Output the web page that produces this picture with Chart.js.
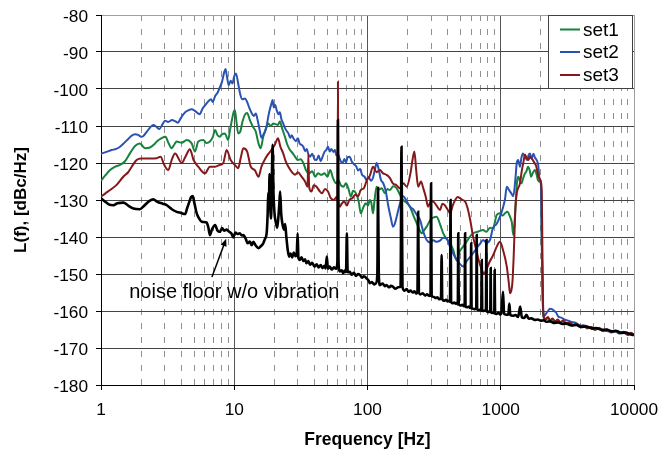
<!DOCTYPE html>
<html>
<head>
<meta charset="utf-8">
<script src="https://cdn.jsdelivr.net/npm/chart.js@4/dist/chart.umd.min.js"></script>
<style>
  html, body { margin: 0; padding: 0; background: #fff; }
  canvas { display: block; }
</style>
</head>
<body>
<canvas id="grafica" width="660" height="452"></canvas>
<script>
// axis ticks
const decadeTicks = [1, 10, 100, 1000, 10000];
const minorTicks = [2, 3, 4, 5, 6, 7, 8, 9, 20, 30, 40, 50, 60, 70, 80, 90,
  200, 300, 400, 500, 600, 700, 800, 900, 2000, 3000, 4000, 5000, 6000, 7000, 8000, 9000];

// [frequency Hz, L(f) dBc/Hz]
const set1 = [[1,-124.8],[1.08,-123.3],[1.17,-121.9],[1.28,-121],[1.39,-120.5],[1.51,-119.6],[1.65,-117.4],[1.8,-115.4],
  [1.96,-114.7],[2.05,-115.4],[2.14,-116],[2.33,-115.8],[2.5,-115],[2.62,-114.2],[2.85,-113.3],[3.05,-112.9],[3.2,-114.5],
  [3.39,-116],[3.55,-115],[3.7,-114.2],[4.03,-114.5],[4.4,-113.8],[4.79,-114.7],[5.07,-116.9],[5.37,-114.2],[5.85,-113.8],
  [6.2,-114.6],[6.56,-114.2],[6.9,-113],[7.18,-111.1],[7.5,-112.5],[7.8,-112.9],[8.1,-112.2],[8.5,-112],[9.0,-113.8],
  [9.3,-111],[9.6,-108.4],[9.85,-106.5],[10.1,-105.7],[10.4,-109],[10.7,-112],[11.1,-111.5],[11.5,-109],[12,-107],
  [12.5,-106.5],[13.1,-108.4],[13.8,-110.2],[14.5,-111.5],[15.2,-114.7],[15.8,-116],[16.5,-112.9],[17.2,-111],[18,-109.3],
  [18.8,-110],[19.6,-109.3],[20.4,-109.5],[21.3,-109.7],[22,-108.8],[22.8,-110.5],[24,-112.9],[25,-115],[26.2,-116.5],
  [27.5,-117.4],[28.6,-118.3],[30,-119.2],[31.5,-119],[33,-120],[34.5,-121.9],[36.5,-122.8],[38.5,-122.2],[40.5,-123.7],
  [42.5,-122.8],[45,-123.2],[47.5,-122.8],[50,-123.7],[52.5,-121.9],[55,-124],[58,-125.5],[60.5,-124.6],[63,-126],
  [66,-126.4],[69,-125.5],[72,-127],[75,-129.1],[78,-127.5],[82,-128.2],[86,-130.5],[89,-133.6],[93,-132],[97,-130.9],
  [101,-131.5],[104,-130],[107,-130.9],[110,-133.6],[113,-130],[117,-126.4],[121,-127.3],[128,-126.8],[135,-128.2],
  [141,-127],[147,-127.3],[156,-126.3],[165,-126.8],[175,-128.5],[185,-130],[197,-130.8],[208,-131.8],[220,-134],
  [234,-136.3],[245,-138],[256,-139],[267,-138.1],[278,-137.2],[295,-135.5],[310,-134.8],[330,-134.5],[350,-136.5],
  [370,-139],[393,-140.5],[417,-141.7],[440,-143.5],[466,-146.2],[490,-144],[522,-142.6],[560,-141],[590,-139.8],
  [620,-139],[680,-138.5],[737,-138.1],[780,-138.6],[830,-137.5],[875,-137.7],[933,-134],[987,-133.6],[1030,-134.2],
  [1076,-133.6],[1120,-133.2],[1173,-134.5],[1210,-136],[1242,-139.5],[1270,-136],[1290,-131.8],[1330,-124.5],
  [1360,-123.7],[1394,-125],[1430,-125.5],[1475,-124],[1520,-122.8],[1560,-122.2],[1600,-121],[1650,-122],[1690,-123.7],
  [1750,-122.5],[1807,-121.9],[1860,-123.2],[1900,-124.6],[1960,-125],[2000,-125.5],[2030,-140],[2060,-155],[2090,-161.5],
  [2150,-162.3],[2230,-161.8],[2320,-162.6],[2420,-162.2],[2540,-162.9],[2660,-162.5],[2790,-163.2],[2930,-162.8],
  [3080,-163.5],[3260,-163.2],[3450,-163.9],[3650,-163.5],[3900,-164.3],[4150,-164],[4450,-164.7],[4750,-164.3],
  [5050,-165.1],[5450,-164.7],[5850,-165.4],[6250,-165.1],[6750,-165.8],[7250,-165.4],[7750,-166.1],[8350,-165.7],
  [8950,-166.5],[9450,-166],[10000,-166.4]];

const set2 = [[1,-117.5],[1.1,-117],[1.2,-116.5],[1.3,-116.2],[1.39,-115.6],[1.5,-114.5],[1.6,-113.5],[1.7,-112.6],
  [1.8,-112.2],[1.9,-112.4],[2.0,-112.9],[2.08,-112.7],[2.2,-111.6],[2.35,-110.3],[2.47,-109.7],[2.6,-110.2],[2.74,-110.8],
  [2.9,-109.5],[3.02,-108.6],[3.2,-108.9],[3.41,-108.4],[3.6,-108.7],[3.78,-109.1],[3.95,-108],[4.12,-107],[4.3,-106.2],
  [4.5,-105.8],[4.8,-105.5],[5.1,-106],[5.5,-106.8],[5.8,-105.2],[6.1,-104.2],[6.4,-103.3],[6.7,-102.8],[6.9,-103.5],
  [7.2,-101.8],[7.5,-101],[7.8,-99.5],[8.1,-98],[8.4,-95.5],[8.6,-94.6],[8.8,-96.5],[9.1,-99],[9.4,-97.8],[9.7,-98.5],
  [10.0,-96.5],[10.3,-95.8],[10.7,-98.5],[11.1,-101.5],[11.5,-102.8],[12,-102.6],[12.5,-103.5],[13,-105.2],[13.5,-106.5],
  [14,-107.3],[14.5,-106.6],[15,-108.5],[15.5,-111],[16,-113.2],[16.5,-112.4],[17,-111.5],[17.5,-110],[18,-107.5],
  [18.5,-105.5],[19,-104],[19.4,-103],[19.8,-105],[20.3,-104.3],[20.8,-105.7],[21.5,-106.8],[22,-106.3],[22.6,-108.2],
  [23.3,-109.3],[24,-110.5],[24.7,-111.3],[25.5,-112],[26.3,-113.2],[27,-112.5],[28,-113.5],[29,-114.1],[30,-113.3],
  [31,-114.8],[32,-115.1],[33,-115.6],[34,-116.8],[35,-116.2],[36,-117.7],[37,-118.3],[38.5,-117.5],[40,-119],
  [41.5,-119.2],[43,-118],[44.5,-119.5],[46,-118.3],[47.5,-117],[49,-116.5],[50.6,-115.6],[52,-116.9],[53.5,-116.2],
  [55.4,-117],[57,-116.5],[58.5,-118],[60,-117.5],[61.5,-118.6],[63,-119.5],[65,-120],[67,-118.9],[69,-119.8],
  [71,-118.4],[73.5,-118.3],[76,-119.5],[79,-120.3],[82,-120.8],[85,-122],[88,-121.6],[91,-123.2],[95,-123.7],
  [98,-124.5],[102,-123.8],[106,-124.8],[110,-124],[114,-121.5],[117,-120],[121,-121.5],[126,-124.5],[131,-125.4],
  [137,-127.5],[143,-131.5],[150,-135],[155,-137.2],[160,-136.5],[167,-134],[175,-131],[185,-129],[195,-130],
  [208,-131.8],[220,-132.5],[232,-133.8],[248,-135.4],[262,-138.5],[278,-140.8],[295,-141.5],[312,-140.9],[330,-141.3],
  [350,-141],[370,-140.2],[392,-140.4],[415,-142.5],[440,-144.5],[466,-146.2],[492,-147.2],[522,-148],[555,-146.5],
  [590,-145.4],[620,-144.4],[660,-143],[700,-141.8],[737,-140.8],[780,-141.5],[830,-140.8],[875,-137.5],[930,-136.5],
  [987,-134.5],[1040,-132],[1076,-129.8],[1110,-126.4],[1150,-127.2],[1200,-128.2],[1242,-129],[1290,-124],[1318,-120],
  [1350,-119.2],[1394,-121],[1430,-118.5],[1470,-117.4],[1520,-118.3],[1580,-119.2],[1620,-117.8],[1657,-117.4],
  [1700,-118.8],[1760,-117.5],[1807,-118.6],[1860,-119.2],[1910,-120.5],[1960,-124.6],[2000,-125.5],[2030,-140],
  [2060,-155],[2090,-160.8],[2120,-161.3],[2180,-160.8],[2260,-160],[2340,-159.4],[2420,-159.5],[2520,-160],[2600,-160.4],
  [2700,-161.5],[2850,-161.8],[3000,-162.3],[3200,-162.6],[3400,-163],[3600,-163.1],[3800,-163.6],[4000,-163.9],
  [4300,-164],[4600,-164.5],[5000,-164.8],[5400,-164.7],[5800,-165.3],[6200,-165.4],[6700,-165.6],[7200,-165.5],
  [7700,-166],[8300,-165.8],[8900,-166.3],[9500,-166.1],[10000,-166.3]];

const set3 = [[1,-129.1],[1.08,-128.2],[1.17,-127.3],[1.31,-125.9],[1.47,-123.7],[1.6,-122.5],[1.7,-121],[1.85,-119.2],
  [2.0,-118.8],[2.33,-118.8],[2.62,-118.7],[2.8,-118.3],[2.98,-120.5],[3.2,-121.9],[3.39,-119.2],[3.6,-117.4],[4.03,-120],
  [4.3,-118.3],[4.65,-116.3],[4.95,-119.2],[5.37,-121],[6.03,-122.8],[6.56,-121],[7.18,-121],[7.8,-120.5],[8.27,-120],
  [8.77,-116.5],[9.4,-119.2],[10.1,-120.5],[10.7,-121.4],[11.2,-118.5],[11.7,-116],[12.5,-116.9],[13.3,-121],[14.3,-122],
  [15.2,-123.7],[16,-121],[17,-119],[17.8,-117.8],[19,-116.5],[20.2,-115],[21.3,-113.3],[22.2,-115.6],[23.3,-117.4],
  [24.3,-119.5],[25.5,-121],[27,-122.4],[28.6,-123.2],[30,-122.5],[32,-123.7],[34,-125],[35.5,-126.4],[36,-117.8],
  [36.5,-126.5],[38,-127.7],[39.5,-126],[41.5,-126.4],[43.5,-127.5],[45.5,-128.2],[48,-127],[50.5,-127.7],[53,-129.5],
  [56,-130],[58.5,-129.2],[59.6,-130],[60,-98],[60.4,-130],[62,-131.8],[64,-131],[67,-130.4],[70,-131.5],[73,-130],
  [77,-129.5],[81,-128.6],[85,-129],[89,-127.3],[94,-126.8],[99,-124.6],[104,-123.5],[110,-121],[117,-122.5],[124,-121.9],
  [131,-122.8],[139,-123.2],[147,-124],[155,-125.5],[165,-126],[175,-126.8],[186,-125.5],[197,-126.4],[210,-122.8],
  [218,-119],[225,-116.9],[232,-122],[240,-126.4],[252,-125],[262,-126.8],[273,-129],[285,-131.8],[297,-130.5],
  [310,-130.4],[330,-131.5],[350,-132.7],[365,-131],[380,-131.4],[398,-132.5],[417,-133.6],[436,-131.5],[455,-130],
  [475,-129.2],[495,-129.5],[518,-130],[540,-130.4],[560,-131.8],[590,-135.4],[620,-139.9],[650,-143],[680,-146],
  [715,-148.5],[750,-150],[785,-148.5],[830,-146.5],[875,-145],[933,-142.6],[987,-141.3],[1040,-143.5],[1110,-148],
  [1150,-152.5],[1173,-155.2],[1200,-154.5],[1225,-152],[1250,-145.3],[1290,-131.8],[1318,-128.2],[1394,-125.5],
  [1440,-122],[1475,-120.1],[1520,-117.8],[1560,-118.5],[1610,-119.2],[1657,-118.3],[1710,-118.8],[1760,-119.5],
  [1807,-120.2],[1850,-121],[1920,-123.7],[1980,-124.5],[2030,-127.3],[2050,-140],[2070,-155],[2100,-161.5],
  [2180,-162.2],[2260,-161.6],[2350,-162.5],[2450,-162],[2560,-162.8],[2680,-162.3],[2800,-163],[2950,-162.6],
  [3100,-163.4],[3300,-163.1],[3500,-163.8],[3700,-163.4],[3950,-164.2],[4200,-163.9],[4500,-164.6],[4800,-164.3],
  [5100,-165],[5500,-164.6],[5900,-165.3],[6300,-165],[6800,-165.7],[7300,-165.3],[7800,-166],[8400,-165.6],
  [9000,-166.4],[9500,-165.9],[10000,-166.5]];

const noiseFloor = [[1,-129.5],[1.08,-130.5],[1.16,-131.3],[1.24,-131.4],[1.33,-130.9],[1.47,-130.7],[1.6,-131.5],
  [1.75,-132.3],[1.96,-132.5],[2.1,-131.6],[2.3,-130.3],[2.47,-129.8],[2.65,-130.5],[2.9,-131],[3.11,-131.4],[3.4,-132.5],
  [3.7,-133.2],[4.0,-133.5],[4.27,-133.8],[4.45,-132],[4.6,-130.5],[4.75,-129.2],[4.88,-128.9],[5.0,-130.5],[5.23,-133.6],
  [5.45,-135],[5.7,-135.9],[6.2,-136.1],[6.4,-137.5],[6.56,-139.5],[6.8,-138],[7.18,-136.8],[7.5,-138.3],[7.8,-138.6],
  [8.1,-137.6],[8.4,-138.3],[8.77,-138],[9.1,-138.5],[9.5,-139],[9.85,-140.1],[10.2,-138.8],[10.6,-139.2],[11,-139],
  [11.4,-139.6],[11.7,-139.5],[12.2,-140.5],[12.6,-141.7],[13.1,-141.2],[13.5,-142.2],[13.9,-141.3],[14.5,-142.3],
  [15.2,-143],[15.8,-142.5],[16.5,-141.7],[17,-140.5],[17.5,-139],[17.8,-134],[18,-128],[18.2,-132],[18.4,-123],
  [18.6,-131],[18.9,-135],[19.1,-127],[19.4,-115.1],[19.7,-128],[20.1,-134],[20.5,-136],[21,-137.5],[21.4,-135],
  [21.8,-131],[22.1,-127.7],[22.5,-133.6],[23,-136.5],[23.6,-138],[24.1,-136.5],[24.6,-140],[25.2,-143.5],[25.8,-145.3],
  [26.5,-144.5],[27.2,-145.5],[28,-144.2],[28.8,-145.2],[29.4,-144.9],[29.9,-139],[30.3,-145.5],[31,-146.2],[32,-145.5],
  [33,-146.5],[34,-146],[34.8,-147.1],[36,-146.5],[37,-147.5],[38.5,-147],[40,-148],[41.5,-147.4],[43,-148.2],
  [44.5,-147.6],[46,-148.4],[47.5,-147.8],[48.5,-148.5],[49.5,-145.3],[50.5,-148.6],[52,-148],[54,-148.8],[56,-148.2],
  [58,-148.6],[59.4,-147],[60,-108.4],[60.6,-147],[62,-149.3],[64,-149],[65.7,-149.8],[67.5,-149.1],[69,-149.5],
  [70,-139],[71,-149.5],[73.6,-149.4],[76,-150.2],[79,-149.7],[82,-150.5],[85,-150],[88,-150.3],[91,-151],[94,-150.6],
  [98.5,-151.2],[102,-151.8],[104,-152.5],[108,-152.2],[112,-152.8],[116,-152.5],[118.5,-150],[120,-126.8],[121.5,-150],
  [124,-153],[130,-152.6],[135,-153.3],[139,-153],[145,-153.6],[150,-153.2],[155,-153.4],[162,-154],[170,-153.6],
  [177,-153.5],[180,-115.6],[183,-153.5],[190,-154.5],[197,-154.1],[203,-154.8],[210,-154.5],[218,-155],[225,-154.7],
  [232,-155.3],[237,-154.8],[240,-133.2],[243,-155],[250,-155.5],[260,-155.2],[270,-155.8],[280,-155.5],[290,-155.9],
  [297,-155.7],[300,-125.5],[303,-156],[315,-156.2],[325,-156.5],[335,-156.3],[345,-156.8],[356,-156.6],[360,-144.9],
  [364,-156.8],[375,-157.2],[388,-157],[400,-157.4],[410,-157.2],[416,-157.5],[420,-130],[424,-157.5],[435,-157.9],
  [448,-157.7],[460,-158],[470,-157.8],[476,-158.2],[480,-139],[484,-158.2],[500,-158.5],[515,-158.3],[530,-158.7],
  [536,-158.6],[540,-139],[544,-158.8],[560,-159],[575,-158.8],[590,-159.2],[596,-159.1],[600,-141.7],[604,-159.2],
  [620,-159.4],[640,-159.5],[655,-159.3],[660,-139.5],[665,-159.5],[685,-159.8],[700,-159.6],[714,-159.9],[720,-146.2],
  [726,-159.9],[745,-160],[760,-159.8],[774,-160],[780,-140.8],[786,-160.1],[805,-160.3],[820,-160.1],[834,-160.3],
  [840,-148.4],[846,-160.3],[870,-160.5],[888,-160.4],[894,-160.6],[900,-148.9],[906,-160.6],[930,-160.8],[960,-160.5],
  [990,-160.9],[1010,-160.6],[1040,-154.8],[1060,-160.8],[1100,-161],[1140,-160.9],[1160,-158],[1180,-161.1],
  [1230,-161.3],[1290,-161.1],[1350,-161.6],[1400,-158.8],[1440,-161.7],[1500,-161.9],[1560,-161],[1620,-162.1],
  [1700,-162],[1800,-162.4],[1900,-162.3],[2000,-162.6],[2100,-162.5],[2200,-162.9],[2350,-162.8],[2500,-163.2],
  [2700,-163.1],[2900,-163.5],[3100,-163.4],[3400,-163.9],[3700,-163.8],[4000,-164.3],[4400,-164.2],[4800,-164.7],
  [5200,-164.6],[5700,-165.1],[6200,-165],[6800,-165.5],[7400,-165.4],[8000,-165.9],[8700,-165.8],[9300,-166.3],
  [10000,-166.5]];

// annotation, in data coordinates
const nota = { texto: 'noise floor w/o vibration', f: 10, L: -156.6 };
const flecha = { desde: [6.8, -150.8], hasta: [8.7, -140.5] };

const fuente = 'Arial, "Liberation Sans", sans-serif';

function aPuntos(serie) {
    return serie.map(([f, L]) => ({ x: f, y: L }));
}

// quita el relleno que Chart.js reserva para las etiquetas extremas
function sinRelleno(s) {
    s.paddingLeft = 0;
    s.paddingRight = 0;
    s.paddingTop = 0;
    s.paddingBottom = 0;
}

const leyendaPlugin = {
    id: 'leyendaCaja',
    afterDraw(chart) {
        const { ctx, chartArea } = chart;
        const w = 84, h = 73;
        const x0 = chartArea.right - w - 2;
        const y0 = chartArea.top;
        ctx.save();
        ctx.fillStyle = '#fff';
        ctx.fillRect(x0, y0, w, h);
        ctx.strokeStyle = '#404040';
        ctx.lineWidth = 1;
        ctx.strokeRect(x0 + 0.5, y0 + 0.5, w, h);
        ctx.font = '19px ' + fuente;
        ctx.textBaseline = 'middle';
        ctx.fillStyle = '#000';
        const filas = [14.5, 37, 60];
        chart.data.datasets.filter(d => d.enLeyenda).forEach((d, i) => {
            const y = y0 + filas[i];
            ctx.strokeStyle = d.borderColor;
            ctx.lineWidth = 2;
            ctx.beginPath();
            ctx.moveTo(x0 + 12, y);
            ctx.lineTo(x0 + 32, y);
            ctx.stroke();
            ctx.fillText(d.label, x0 + 35, y + 1);
        });
        ctx.restore();
    }
};

const notaPlugin = {
    id: 'notaRuido',
    afterDatasetsDraw(chart) {
        const { ctx, scales: { x, y } } = chart;
        ctx.save();
        ctx.font = '20px ' + fuente;
        ctx.fillStyle = '#000';
        ctx.textAlign = 'center';
        ctx.textBaseline = 'alphabetic';
        ctx.fillText(nota.texto, x.getPixelForValue(nota.f), y.getPixelForValue(nota.L));

        const x1 = x.getPixelForValue(flecha.desde[0]), y1 = y.getPixelForValue(flecha.desde[1]);
        const x2 = x.getPixelForValue(flecha.hasta[0]), y2 = y.getPixelForValue(flecha.hasta[1]);
        const ang = Math.atan2(y2 - y1, x2 - x1);
        ctx.strokeStyle = '#000';
        ctx.lineWidth = 1.5;
        ctx.beginPath();
        ctx.moveTo(x1, y1);
        ctx.lineTo(x2 - 4 * Math.cos(ang), y2 - 4 * Math.sin(ang));
        ctx.stroke();
        ctx.beginPath();
        ctx.moveTo(x2, y2);
        ctx.lineTo(x2 - 8 * Math.cos(ang - 0.4), y2 - 8 * Math.sin(ang - 0.4));
        ctx.lineTo(x2 - 8 * Math.cos(ang + 0.4), y2 - 8 * Math.sin(ang + 0.4));
        ctx.closePath();
        ctx.fill();
        ctx.restore();
    }
};

const ctx = document.getElementById('grafica').getContext('2d');

new Chart(ctx, {
    type: 'line',
    data: {
        datasets: [
            { label: 'set1', data: aPuntos(set1), borderColor: '#17823c', borderWidth: 2, order: 3, enLeyenda: true },
            { label: 'set2', data: aPuntos(set2), borderColor: '#2a52b4', borderWidth: 2, order: 2, enLeyenda: true },
            { label: 'set3', data: aPuntos(set3), borderColor: '#85181a', borderWidth: 2, order: 1, enLeyenda: true },
            { label: 'noise floor', data: aPuntos(noiseFloor), borderColor: '#000', borderWidth: 2.6, order: 0 }
        ]
    },
    options: {
        responsive: false,
        animation: false,
        events: [],
        elements: {
            point: { radius: 0 },
            line: { cubicInterpolationMode: 'monotone', fill: false }
        },
        layout: { padding: { left: 0, right: 26, top: 15, bottom: 0 } },
        plugins: {
            legend: { display: false },
            tooltip: { enabled: false }
        },
        scales: {
            x: {
                type: 'logarithmic',
                position: 'bottom',
                min: 1,
                max: 10000,
                afterBuildTicks: s => { s.ticks = decadeTicks.map(v => ({ value: v })); },
                afterFit: s => { s.height = 67; sinRelleno(s); },
                ticks: {
                    callback: v => String(v),
                    font: { family: fuente, size: 17.3 },
                    color: '#000',
                    padding: 10,
                    maxRotation: 0,
                    autoSkip: false
                },
                grid: {
                    color: c => (c.tick && c.tick.value === 10000) ? '#a0a0a0' : '#555',
                    tickColor: '#000',
                    tickLength: 5,
                    lineWidth: 1
                },
                border: { color: '#000', width: 1 },
                title: {
                    display: true,
                    text: 'Frequency [Hz]',
                    color: '#000',
                    font: { family: fuente, size: 17.5, weight: 'bold' },
                    padding: { top: 0, bottom: 1 }
                }
            },
            xMenor: {
                type: 'logarithmic',
                position: 'top',
                min: 1,
                max: 10000,
                afterBuildTicks: s => { s.ticks = minorTicks.map(v => ({ value: v })); },
                afterFit: s => { s.height = 0; sinRelleno(s); },
                ticks: { display: false },
                grid: { color: '#909090', drawTicks: false, lineWidth: 1 },
                border: { display: false, dash: [6, 8] }
            },
            y: {
                min: -180,
                max: -80,
                afterFit: s => { s.width = 101; sinRelleno(s); },
                ticks: {
                    stepSize: 10,
                    font: { family: fuente, size: 17.3 },
                    color: '#000',
                    padding: 8,
                    labelOffset: 2
                },
                grid: {
                    color: c => (c.tick && c.tick.value === -80) ? '#a0a0a0' : '#444',
                    tickColor: '#000',
                    tickLength: 5,
                    lineWidth: 1
                },
                border: { color: '#000', width: 1 },
                title: {
                    display: true,
                    text: 'L(f), [dBc/Hz]',
                    color: '#000',
                    font: { family: fuente, size: 17, weight: 'bold' },
                    padding: { top: 11, bottom: 0 }
                }
            }
        }
    },
    plugins: [notaPlugin, leyendaPlugin]
});
</script>
</body>
</html>
